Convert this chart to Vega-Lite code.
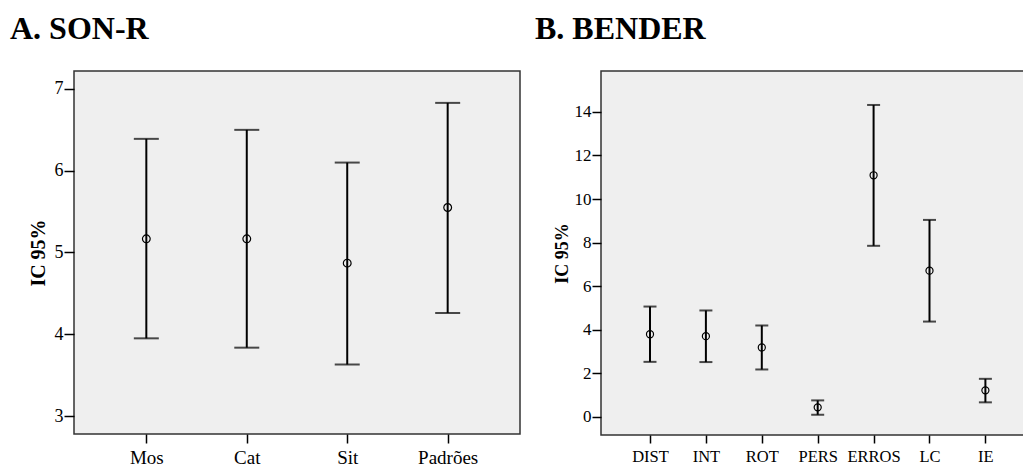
{
  "$schema": "https://vega.github.io/schema/vega-lite/v6.json",
  "padding": {"left": 9, "top": 12, "right": 0, "bottom": 0},
  "background": "white",
  "spacing": 13,
  "config": {
    "font": "Liberation Serif",
    "view": {"fill": "#efefef", "stroke": "#333333", "strokeWidth": 1.5},
    "axis": {"grid": false, "domain": false, "tickColor": "#000000", "tickWidth": 1.5, "labelColor": "#000000", "titleColor": "#000000", "labelFont": "Liberation Serif", "titleFont": "Liberation Serif", "titleFontWeight": "bold"},
    "title": {"font": "Liberation Serif", "fontSize": 32, "fontWeight": "bold", "anchor": "start", "color": "#000000", "frame": "group"}
  },
  "hconcat": [
    {
      "title": {"text": "A. SON-R", "dx": -64, "offset": 0, "baseline": "alphabetic"},
      "width": 446,
      "height": 363,
      "data": {"values": [
        {"var": "Mos", "lower": 3.95, "mean": 5.167, "upper": 6.39},
        {"var": "Cat", "lower": 3.836, "mean": 5.167, "upper": 6.50},
        {"var": "Sit", "lower": 3.63, "mean": 4.87, "upper": 6.10},
        {"var": "Padrões", "lower": 4.26, "mean": 5.55, "upper": 6.83}
      ]},
      "encoding": {
        "x": {"field": "var", "type": "nominal", "sort": null, "scale": {"type": "point", "padding": 0.72},
              "axis": {"title": null, "labelAngle": 0, "labelFontSize": 19, "tickSize": 9, "labelPadding": 5.5}}
      },
      "layer": [
        {"mark": {"type": "rule", "color": "#000000", "strokeWidth": 2},
         "encoding": {
           "y": {"field": "lower", "type": "quantitative", "title": "IC 95%",
                 "scale": {"domain": [2.78, 7.22], "nice": false, "zero": false},
                 "axis": {"values": [3, 4, 5, 6, 7], "format": "d", "labelFontSize": 18, "tickSize": 10, "labelPadding": 1, "titleFontSize": 20, "titlePadding": 6}},
           "y2": {"field": "upper"}
         }},
        {"mark": {"type": "tick", "color": "#000000", "thickness": 2, "size": 25},
         "encoding": {"y": {"field": "lower", "type": "quantitative", "title": "IC 95%"}}},
        {"mark": {"type": "tick", "color": "#000000", "thickness": 2, "size": 25},
         "encoding": {"y": {"field": "upper", "type": "quantitative", "title": "IC 95%"}}},
        {"mark": {"type": "point", "shape": "circle", "filled": false, "color": "#000000", "size": 60, "strokeWidth": 1.2, "opacity": 1},
         "encoding": {"y": {"field": "mean", "type": "quantitative", "title": "IC 95%"}}}
      ]
    },
    {
      "title": {"text": "B. BENDER", "dx": -66, "offset": 0, "baseline": "alphabetic"},
      "width": 424,
      "height": 364,
      "data": {"values": [
        {"var": "DIST", "lower": 2.52, "mean": 3.79, "upper": 5.06},
        {"var": "INT", "lower": 2.51, "mean": 3.70, "upper": 4.88},
        {"var": "ROT", "lower": 2.17, "mean": 3.18, "upper": 4.19},
        {"var": "PERS", "lower": 0.09, "mean": 0.43, "upper": 0.75},
        {"var": "ERROS", "lower": 7.85, "mean": 11.09, "upper": 14.32},
        {"var": "LC", "lower": 4.37, "mean": 6.71, "upper": 9.04},
        {"var": "IE", "lower": 0.66, "mean": 1.21, "upper": 1.74}
      ]},
      "encoding": {
        "x": {"field": "var", "type": "nominal", "sort": null, "scale": {"type": "point", "padding": 0.7925, "align": 0.553},
              "axis": {"title": null, "labelAngle": 0, "labelFontSize": 16.5, "tickSize": 8, "labelPadding": 5.4}}
      },
      "layer": [
        {"mark": {"type": "rule", "color": "#000000", "strokeWidth": 2},
         "encoding": {
           "y": {"field": "lower", "type": "quantitative", "title": "IC 95%",
                 "scale": {"domain": [-0.84, 15.88], "nice": false, "zero": false},
                 "axis": {"values": [0, 2, 4, 6, 8, 10, 12, 14], "format": "d", "labelFontSize": 17, "tickSize": 9, "labelPadding": 1, "titleFontSize": 18, "titlePadding": 3}},
           "y2": {"field": "upper"}
         }},
        {"mark": {"type": "tick", "color": "#000000", "thickness": 2, "size": 13},
         "encoding": {"y": {"field": "lower", "type": "quantitative", "title": "IC 95%"}}},
        {"mark": {"type": "tick", "color": "#000000", "thickness": 2, "size": 13},
         "encoding": {"y": {"field": "upper", "type": "quantitative", "title": "IC 95%"}}},
        {"mark": {"type": "point", "shape": "circle", "filled": false, "color": "#000000", "size": 50, "strokeWidth": 1.2, "opacity": 1},
         "encoding": {"y": {"field": "mean", "type": "quantitative", "title": "IC 95%"}}}
      ]
    }
  ]
}
